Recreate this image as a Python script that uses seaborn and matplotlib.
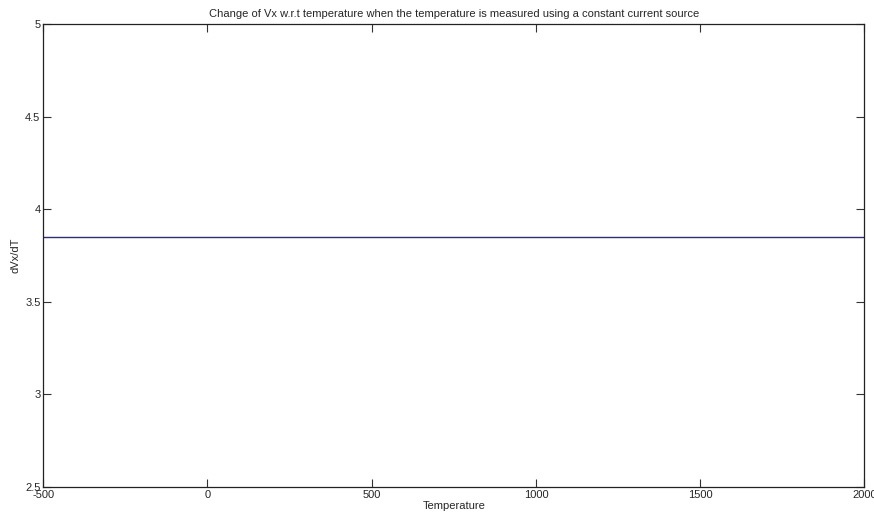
import pandas as pd
import numpy as np
import seaborn as sns
import matplotlib.pyplot as plt

# temperature sweep and the (constant) sensitivity
temperature = [-500, 0, 500, 1000, 1500, 2000]
dvx_dt = [3.85, 3.85, 3.85, 3.85, 3.85, 3.85]

x_ticks = [-500, 0, 500, 1000, 1500, 2000]
y_ticks = [2.5, 3, 3.5, 4, 4.5, 5]

data = pd.DataFrame({'Temperature': temperature, 'dVx/dT': dvx_dt})

sns.set_style("ticks")
plt.rcParams['font.family'] = ['Liberation Sans', 'DejaVu Sans']
plt.rcParams['xtick.direction'] = 'in'
plt.rcParams['ytick.direction'] = 'in'

fig = plt.figure(figsize=(8.74, 5.2), dpi=100)
ax = fig.add_axes([0.0495, 0.0635, 0.9395, 0.8895])

sns.lineplot(x='Temperature', y='dVx/dT', data=data, color='#2c2c84', linewidth=1.0, ax=ax)

ax.set_xlim(-500, 2000)
ax.set_ylim(2.5, 5)
ax.set_xticks(x_ticks)
ax.set_yticks(y_ticks)
ax.set_xticklabels([str(t) for t in x_ticks])
ax.set_yticklabels(['2.5', '3', '3.5', '4', '4.5', '5'])
ax.tick_params(axis='both', labelsize=8, length=6, width=0.8, color='#333333',
               top=True, right=True, pad=2)
for s in ax.spines.values():
    s.set_linewidth(0.9)
    s.set_color('#222222')

ax.set_xlabel('Temperature', fontsize=8, labelpad=1)
ax.set_ylabel('dVx/dT', fontsize=8, labelpad=3)
ax.set_title('Change of Vx w.r.t temperature when the temperature is measured using a constant current source',
             fontsize=8, pad=5)

plt.savefig("out.png", dpi=100)
plt.close()
